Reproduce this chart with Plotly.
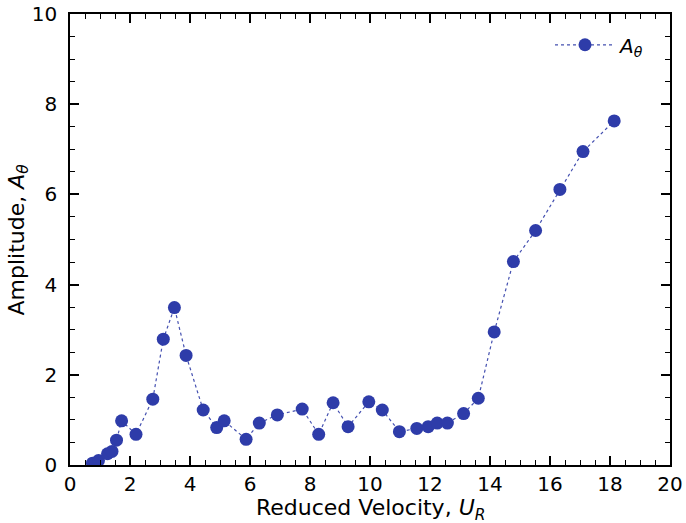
import plotly.graph_objects as go

reduced_velocity = [0.75, 0.95, 1.25, 1.4, 1.55, 1.72, 2.2, 2.76, 3.11, 3.48, 3.87, 4.44,
                    4.89, 5.14, 5.87, 6.31, 6.91, 7.74, 8.29, 8.77, 9.27, 9.96, 10.41,
                    10.98, 11.56, 11.94, 12.24, 12.58, 13.12, 13.61, 14.14, 14.78, 15.52,
                    16.33, 17.1, 18.14]
amplitude = [0.04, 0.1, 0.25, 0.3, 0.55, 0.98, 0.68, 1.46, 2.79, 3.49, 2.43, 1.22,
             0.83, 0.98, 0.57, 0.93, 1.11, 1.24, 0.68, 1.38, 0.85, 1.40, 1.22,
             0.74, 0.81, 0.85, 0.93, 0.93, 1.14, 1.48, 2.95, 4.51, 5.20,
             6.11, 6.95, 7.63]

x_ticks = [0, 2, 4, 6, 8, 10, 12, 14, 16, 18, 20]
y_ticks = [0, 2, 4, 6, 8, 10]

x_title = "Reduced Velocity, <i>U<sub>R</sub></i>"
y_title = "Amplitude, <i>A<sub>θ</sub></i>"

marker_color = "#2e3ca9"
line_color = "#4450b0"
font_family = "DejaVu Sans"

fig = go.Figure()
fig.add_trace(go.Scatter(
    x=reduced_velocity, y=amplitude, mode="lines+markers",
    name="<i>A<sub>θ</sub></i>",
    line=dict(color=line_color, width=1.2, dash="dot"),
    marker=dict(color=marker_color, size=13, line=dict(width=0)),
))

axis_common = dict(
    showgrid=False, zeroline=False, showline=True, linecolor="black", linewidth=1.5,
    mirror="ticks", ticks="inside", ticklen=9, tickwidth=1.6, tickcolor="black",
    tickfont=dict(family=font_family, size=20, color="black"), automargin=False,
    ticklabeloverflow="allow",
)

fig.update_layout(
    width=686, height=523,
    margin=dict(l=70, r=16, t=14, b=58),
    paper_bgcolor="white", plot_bgcolor="white",
    font=dict(family=font_family, color="black"),
    xaxis=dict(range=[0, 20], tickvals=x_ticks, ticktext=[str(v) for v in x_ticks],
               minor=dict(dtick=0.5, ticks="inside", ticklen=5, tickwidth=1.3, tickcolor="black"),
               **axis_common),
    yaxis=dict(range=[0, 10], tickvals=y_ticks, ticktext=[str(v) for v in y_ticks],
               ticklabelstandoff=7,
               minor=dict(dtick=0.5, ticks="inside", ticklen=5, tickwidth=1.3, tickcolor="black"),
               **axis_common),
    legend=dict(x=0.80, y=0.975, xanchor="left", yanchor="top", itemwidth=60,
                bgcolor="rgba(0,0,0,0)", font=dict(family=font_family, size=20)),
    showlegend=True,
    annotations=[
        dict(text=x_title, xref="paper", yref="paper", x=0.5, y=0, yshift=-44,
             xanchor="center", yanchor="middle", showarrow=False,
             font=dict(family=font_family, size=22, color="black")),
        dict(text=y_title, xref="paper", yref="paper", x=0, y=0.5, xshift=-52,
             xanchor="center", yanchor="middle", textangle=-90, showarrow=False,
             font=dict(family=font_family, size=22, color="black")),
    ],
)

fig.write_html("out.html", config={"displayModeBar": False},
               post_script="document.body.style.margin='0';")
